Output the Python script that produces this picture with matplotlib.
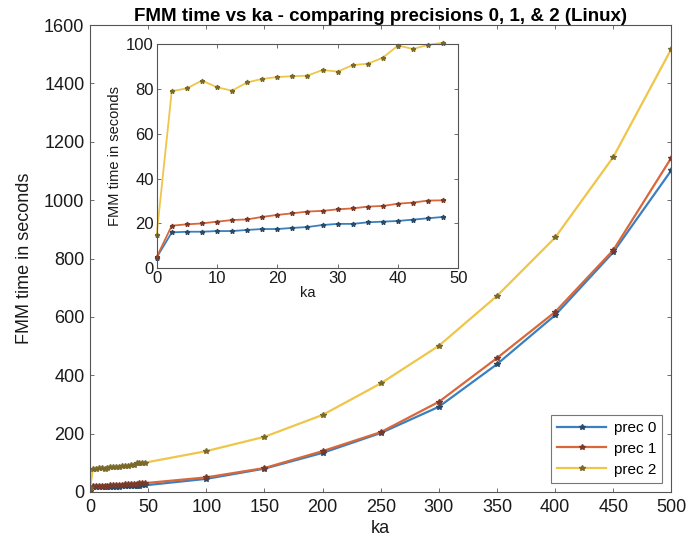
import matplotlib
matplotlib.use('Agg')
import matplotlib.pyplot as plt

plt.rcParams['font.family'] = ['Liberation Sans', 'DejaVu Sans']

# ka sample points: fine sweep up to 47.5, then coarse steps
ka_fine = [0, 2.5, 5, 7.5, 10, 12.5, 15, 17.5, 20, 22.5, 25, 27.5, 30,
           32.5, 35, 37.5, 40, 42.5, 45, 47.5]
ka_coarse = [100, 150, 200, 250, 300, 350, 400, 450, 500]

prec0_fine = [4.8, 16.0, 16.3, 16.3, 16.6, 16.6, 17.1, 17.5, 17.5, 18.0,
              18.4, 19.3, 19.8, 19.8, 20.5, 20.8, 21.1, 21.7, 22.3, 22.9]
prec1_fine = [5.0, 19.0, 19.6, 20.0, 20.8, 21.5, 21.8, 22.9, 23.8, 24.5,
              25.3, 25.6, 26.3, 26.7, 27.5, 27.8, 28.8, 29.3, 30.2, 30.3]
prec2_fine = [15.0, 79.0, 80.2, 83.7, 80.7, 79.2, 82.9, 84.4, 85.3, 85.6,
              85.9, 88.4, 87.7, 90.6, 91.2, 93.9, 99.3, 97.8, 99.6, 100.6]

prec0_coarse = [45, 80, 134, 202, 292, 438, 606, 822, 1103]
prec1_coarse = [50, 82, 140, 205, 309, 459, 617, 829, 1146]
prec2_coarse = [140, 189, 264, 372, 501, 672, 872, 1148, 1519]

labels = ['prec 0', 'prec 1', 'prec 2']

# MATLAB default line colours, slightly washed out like the source
BLUE   = '#3a80c0'
RED    = '#d8673a'
YELLOW = '#efc54a'
MARK   = ['#2a4a66', '#7a3a2a', '#7a6a2a']
SPINE  = '#555555'
TEXT   = '#1a1a1a'

ka_all = ka_fine + ka_coarse
series = [prec0_fine + prec0_coarse,
          prec1_fine + prec1_coarse,
          prec2_fine + prec2_coarse]
fine = [prec0_fine, prec1_fine, prec2_fine]
colors = [BLUE, RED, YELLOW]


def _matlab_axes(ax, size):
    for s in ax.spines.values():
        s.set_color(SPINE); s.set_linewidth(0.8)
    ax.tick_params(direction='in', top=True, right=True, length=3,
                   width=0.6, color=SPINE, labelsize=size, pad=4,
                   labelcolor=TEXT)


fig = plt.figure(figsize=(6.89, 5.5), dpi=100, facecolor='white')
ax = fig.add_axes([0.1306, 0.1055, 0.844, 0.849])

for ys, c, m, lab in zip(series, colors, MARK, labels):
    ax.plot(ka_all, ys, color=c, linewidth=1.6, marker='*', markersize=4,
            markeredgecolor=m, markerfacecolor=m, label=lab)

ax.set_xlim(0, 500)
ax.set_ylim(0, 1600)
ax.set_xticks(range(0, 501, 50))
ax.set_yticks(range(0, 1601, 200))
_matlab_axes(ax, 13)
ax.tick_params(axis='x', pad=5)
ax.set_xlabel('ka', fontsize=13, color=TEXT, labelpad=3)
ax.set_ylabel('FMM time in seconds', fontsize=13, color=TEXT, labelpad=8)
ax.set_title('FMM time vs ka - comparing precisions 0, 1, & 2 (Linux)',
             fontsize=13.5, fontweight='bold', pad=3)
leg = ax.legend(loc='lower right', fontsize=11, frameon=True, fancybox=False,
                edgecolor=SPINE, handlelength=3.2, borderaxespad=0.6,
                labelspacing=0.45, handletextpad=0.5)
leg.get_frame().set_linewidth(0.8)

# inset: zoom on the fine sweep
ins = fig.add_axes([0.2274, 0.5122, 0.4377, 0.4078])
for ys, c, m in zip(fine, colors, MARK):
    ins.plot(ka_fine, ys, color=c, linewidth=1.3, marker='*', markersize=3.5,
             markeredgecolor=m, markerfacecolor=m, clip_on=False)
ins.set_xlim(0, 50)
ins.set_ylim(0, 100)
ins.set_xticks(range(0, 51, 10))
ins.set_yticks(range(0, 101, 20))
_matlab_axes(ins, 12)
ins.tick_params(pad=2)
ins.set_xlabel('ka', fontsize=10.5, color=TEXT, labelpad=0)
ins.set_ylabel('FMM time in seconds', fontsize=10.5, color=TEXT, labelpad=3)

fig.savefig('out.png', dpi=100, facecolor='white')
plt.close(fig)
